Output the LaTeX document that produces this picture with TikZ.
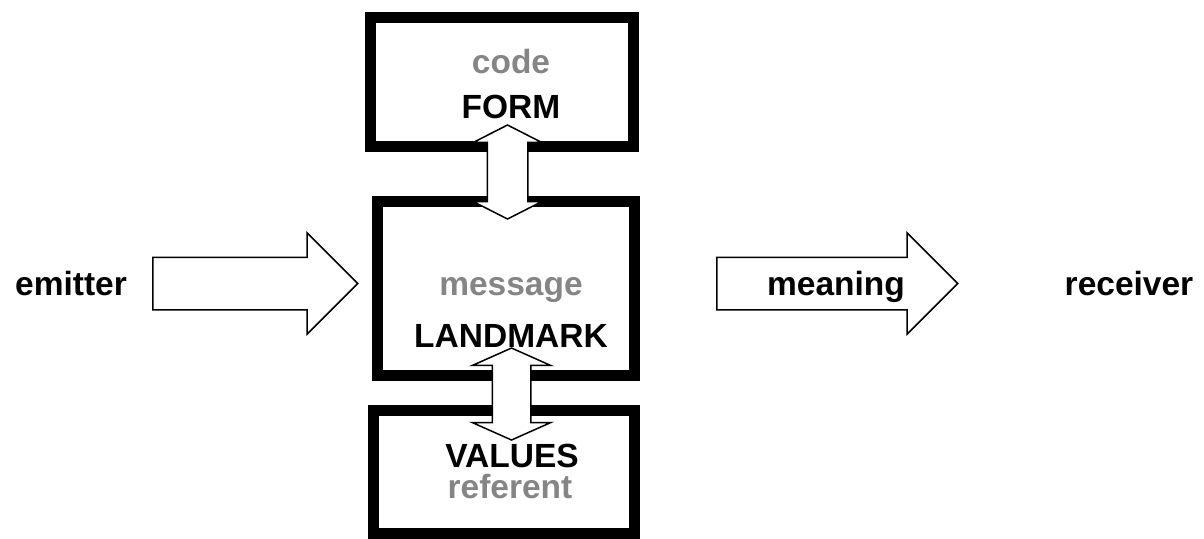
\documentclass[tikz,border=0pt]{standalone}
\usepackage{fontspec}
\setmainfont{Liberation Sans}
\usepackage{xcolor}
\usetikzlibrary{shapes.arrows}

\begin{document}
\begin{tikzpicture}[
    x=0.5pt, y=-0.5pt,
    box/.style={rectangle, draw=black, line width=5.5pt, inner sep=0pt},
    word/.style={anchor=base, inner sep=0pt, font=\fontsize{16.75}{20}\selectfont\bfseries},
    faint/.style={word, text=black!48},
    blockarrow/.style={single arrow, draw=black, fill=white, line width=0.75pt, inner sep=0pt,
        text height=12.75pt, text depth=12.75pt, single arrow head extend=12.25pt,
        single arrow tip angle=90, anchor=tail},
    linkarrow/.style={double arrow, draw=black, fill=white, line width=0.75pt, inner sep=0pt, rotate=90}
]
    \useasboundingbox (0,0) rectangle (1204,538);

    % Boxes
    \node[box, minimum width=131.5pt, minimum height=64.5pt] (form) at (502,82) {};
    \node[box, minimum width=128.5pt, minimum height=87pt] (landmark) at (506,288.5) {};
    \node[box, minimum width=130.5pt, minimum height=61.25pt] (values) at (504,471.75) {};

    % Box texts
    \node[faint] (codetext) at (511,73) {code};
    \node[word] (formtext) at (511,118) {FORM};
    \node[faint] (messagetext) at (511,295) {message};
    \node[word] (landmarktext) at (511,347) {LANDMARK};
    \node[word] (valuestext) at (512,467) {VALUES};
    \node[faint] (referenttext) at (510,498) {referent};

    % Links between the boxes
    \node[linkarrow, minimum height=47pt, text height=9.75pt, text depth=9.75pt,
        double arrow head extend=7pt, double arrow tip angle=126] (formlink) at (507.5,172) {};
    \node[linkarrow, minimum height=46pt, text height=9.25pt, text depth=9.25pt,
        double arrow head extend=10pt, double arrow tip angle=132] (valueslink) at (511.5,394) {};

    % Emitter side
    \node[word] (emitter) at (71,295) {emitter};
    \node[blockarrow, minimum height=102.5pt] (emitarrow) at (152,283.5) {};

    % Receiver side
    \node[blockarrow, minimum height=120.5pt] (meaningarrow) at (716,283.5) {};
    \node[word] (meaning) at (836,295) {meaning};
    \node[word] (receiver) at (1129,295) {receiver};

\end{tikzpicture}
\end{document}
